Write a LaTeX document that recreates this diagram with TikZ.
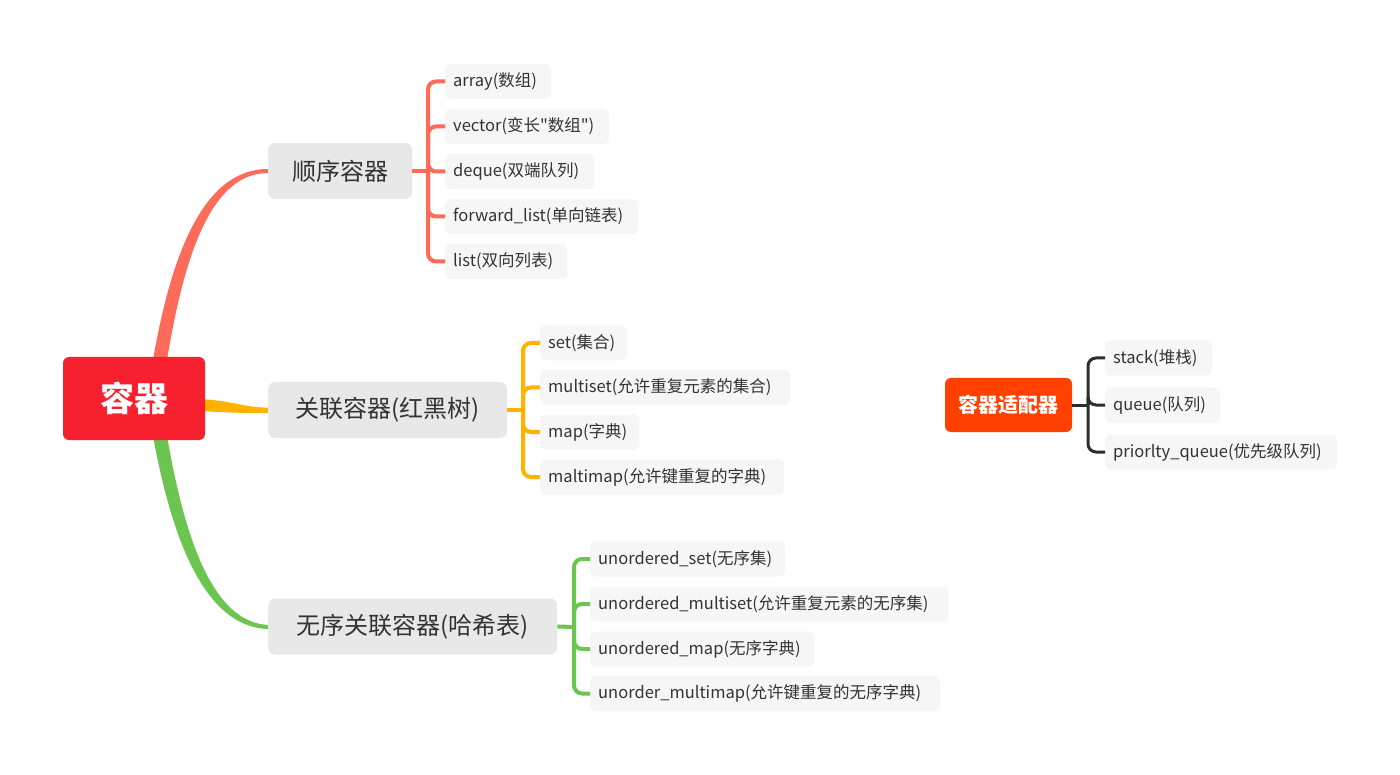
\documentclass[tikz,border=0pt]{standalone}
\usepackage{fontspec}
\setmainfont{Noto Sans CJK SC}[Ligatures=TeXOff]
\definecolor{rootred}{RGB}{247,32,47}
\definecolor{adapt}{RGB}{255,64,0}
\definecolor{salmon}{RGB}{255,107,91}
\definecolor{amber}{RGB}{255,179,0}
\definecolor{leafgreen}{RGB}{108,197,81}
\definecolor{maingray}{RGB}{232,232,232}
\definecolor{leafgray}{RGB}{246,246,246}
\definecolor{txt}{RGB}{51,51,51}
\definecolor{dark}{RGB}{45,45,45}
\begin{document}
\begin{tikzpicture}[x=1pt,y=-1pt,
  rootbox/.style={fill=rootred,rounded corners=6pt,text=white,font=\fontsize{34}{40}\selectfont\bfseries,minimum width=142pt,minimum height=83pt,inner sep=0pt},
  adaptbox/.style={fill=adapt,rounded corners=6pt,text=white,font=\fontsize{20}{24}\selectfont\bfseries,minimum width=127pt,minimum height=54pt,inner sep=0pt},
  mainbox/.style={fill=maingray,rounded corners=7pt,text=txt,font=\fontsize{24}{28}\selectfont,minimum height=56pt,inner sep=0pt,anchor=west},
  leafbox/.style={fill=leafgray,rounded corners=6pt,text=txt,font=\fontsize{16.5}{20}\selectfont,minimum height=35pt,inner ysep=0pt,inner xsep=8pt,text width=#1,align=left,anchor=west},
  bracket/.style={line width=4pt,rounded corners=8pt},
]
\useasboundingbox (0,0) rectangle (1400,775);
\fill[white] (0,0) rectangle (1400,775);

% branch curves (tapered)
\fill[salmon] (153,360) .. controls (172,250) and (205,169) .. (268,169) -- (268,173) .. controls (213,173) and (185,250) .. (167,360) -- cycle;
\fill[amber] (200,399) .. controls (235,401) and (245,408) .. (268,407.5) -- (268,413) .. controls (245,413) and (235,413) .. (200,411) -- cycle;
\fill[leafgreen] (153,436) .. controls (172,540) and (205,627) .. (268,629) -- (268,625) .. controls (213,622) and (185,540) .. (167,436) -- cycle;

% root and adapter
\node[rootbox] (root) at (134,398.5) {容器};
\node[adaptbox] (adapt) at (1008.5,405) {容器适配器};

% main branches
\node[mainbox,minimum width=144pt] (seq) at (268,171) {顺序容器};
\node[mainbox,minimum width=239pt] (assoc) at (268,410) {关联容器(红黑树)};
\node[mainbox,minimum width=289pt] (unord) at (268,626.5) {无序关联容器(哈希表)};

% sequence leaves
\node[leafbox=90pt] (s1) at (445,81.5) {array(数组)};
\node[leafbox=148pt] (s2) at (445,126.5) {vector(变长"数组")};
\node[leafbox=133pt] (s3) at (445,171.5) {deque(双端队列)};
\node[leafbox=177pt] (s4) at (445,216.5) {forward\_list(单向链表)};
\node[leafbox=106pt] (s5) at (445,261.5) {list(双向列表)};

% associative leaves
\node[leafbox=71pt] (a1) at (540,343) {set(集合)};
\node[leafbox=234pt] (a2) at (540,387.5) {multiset(允许重复元素的集合)};
\node[leafbox=83pt] (a3) at (540,432) {map(字典)};
\node[leafbox=228pt] (a4) at (540,477) {maltimap(允许键重复的字典)};

% unordered leaves
\node[leafbox=179pt] (u1) at (590,559) {unordered\_set(无序集)};
\node[leafbox=342pt] (u2) at (590,604) {unordered\_multiset(允许重复元素的无序集)};
\node[leafbox=208pt] (u3) at (590,649) {unordered\_map(无序字典)};
\node[leafbox=334pt] (u4) at (590,693.5) {unorder\_multimap(允许键重复的无序字典)};

% adapter leaves
\node[leafbox=91pt] (d1) at (1105,358) {stack(堆栈)};
\node[leafbox=99pt] (d2) at (1105,405) {queue(队列)};
\node[leafbox=216pt] (d3) at (1105,452) {priorlty\_queue(优先级队列)};

% brackets
\coordinate (js) at (428,171);
\draw[bracket,salmon] (seq.east) -- (js);
\foreach \n in {s1,s2,s3,s4,s5} \draw[bracket,salmon] (js) -- (js |- \n.west) -- (\n.west);

\coordinate (ja) at (523,410);
\draw[bracket,amber] (assoc.east) -- (ja);
\foreach \n in {a1,a2,a3,a4} \draw[bracket,amber] (ja) -- (ja |- \n.west) -- (\n.west);

\coordinate (ju) at (574,627);
\draw[bracket,leafgreen] (unord.east) -- (ju);
\foreach \n in {u1,u2,u3,u4} \draw[bracket,leafgreen] (ju) -- (ju |- \n.west) -- (\n.west);

\coordinate (jd) at (1088,405);
\draw[bracket,dark,line width=3pt] (adapt.east) -- (jd);
\foreach \n in {d1,d2,d3} \draw[bracket,dark,line width=3pt] (jd) -- (jd |- \n.west) -- (\n.west);
\end{tikzpicture}
\end{document}
